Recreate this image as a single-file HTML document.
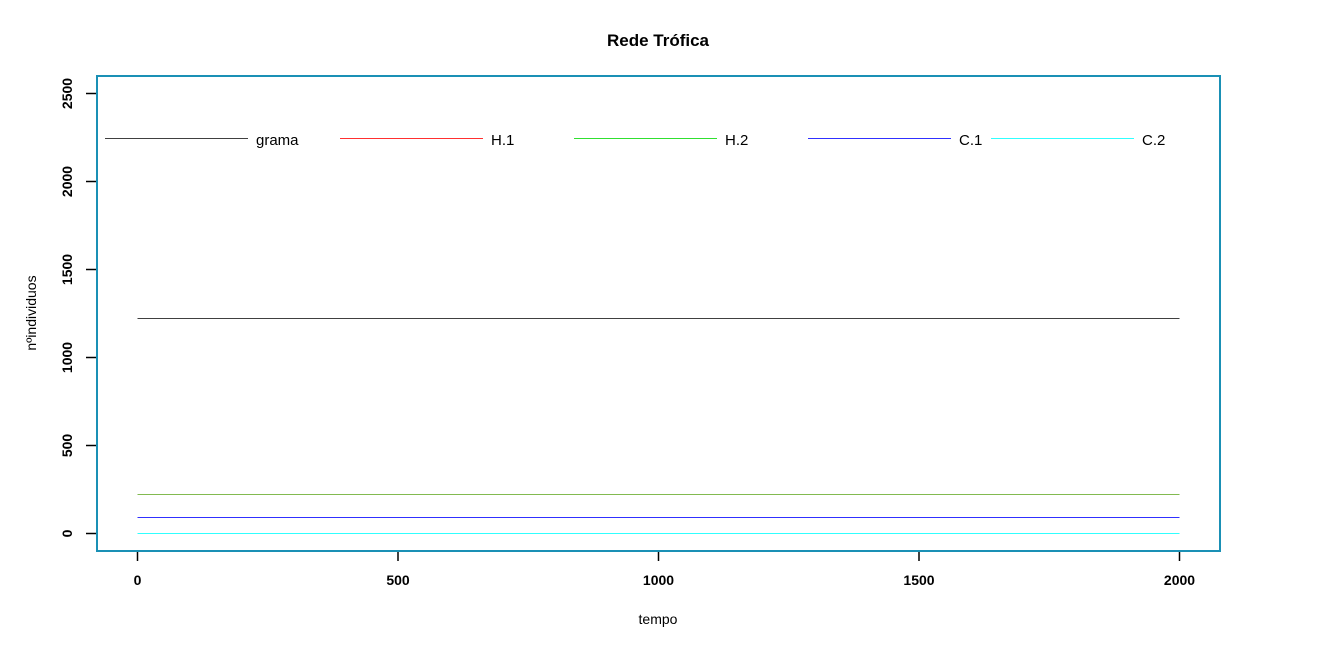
<!DOCTYPE html>
<html><head><meta charset="utf-8"><style>
body{margin:0;background:#fff;font-family:"Liberation Sans",sans-serif}
svg text{font-family:"Liberation Sans",sans-serif}
</style></head><body>
<svg id="chart" width="1317" height="647" xmlns="http://www.w3.org/2000/svg">
<text x="658" y="46" text-anchor="middle" font-size="17" font-weight="bold">Rede Trófica</text>
<text x="658" y="624" text-anchor="middle" font-size="14">tempo</text>
<text transform="translate(36,313) rotate(-90)" text-anchor="middle" font-size="14">nºindividuos</text>
<g id="marks"></g>
<rect x="97" y="76" width="1123" height="475" fill="none" stroke="#1a90b5" stroke-width="2"/>
</svg>
<script>
const series = ["grama","H.1","H.2","C.1","C.2"];
const seriesColors = ["#404040","#ff3030","#30e030","#3030ff","#30ffff"];
const seriesValues = [1222, 220, 220, 91, 2];
const xTicks = [0,500,1000,1500,2000];
const yTicks = [0,500,1000,1500,2000,2500];
const tStart = 0, tEnd = 2000;
const legendX = [105,340,574,808,991];

const NS="http://www.w3.org/2000/svg";
const g=document.getElementById('marks');
const xs=v=>137.5+(v-0)*(1179-137)/2000;
const ys=v=>Math.round(533-v*(533-93)/2500)+0.5;
function el(t,a){const e=document.createElementNS(NS,t);for(const k in a)e.setAttribute(k,a[k]);g.appendChild(e);return e;}
xTicks.forEach(v=>{
 const t=el('line',{x1:xs(v),x2:xs(v),y1:552,y2:561,stroke:'#000','stroke-width':1.5});
 
 
 const l=el('text',{x:xs(v),y:585,'text-anchor':'middle','font-size':'14','font-weight':'bold'});l.textContent=v;
 
 
});
yTicks.forEach(v=>{
 const t=el('line',{x1:86,x2:96,y1:ys(v),y2:ys(v),stroke:'#000','stroke-width':1.5});
 
 
 const l=el('text',{transform:`translate(72,${ys(v)}) rotate(-90)`,'text-anchor':'middle','font-size':'14','font-weight':'bold'});l.textContent=v;
 
 
});
series.forEach((s,i)=>{
 const y=ys(seriesValues[i]);
 const ln=el('line',{x1:xs(tStart),x2:xs(tEnd),y1:y,y2:y,stroke:seriesColors[i],'stroke-width':1,opacity:(i==1||i==2)?0.6:1});
 
 
 const lg=el('line',{x1:legendX[i],x2:legendX[i]+143,y1:138.5,y2:138.5,stroke:seriesColors[i]});
 
 
 const lt=el('text',{x:legendX[i]+151,y:145,'font-size':'15'});lt.textContent=s;
 
 
});
</script>
</body></html>
